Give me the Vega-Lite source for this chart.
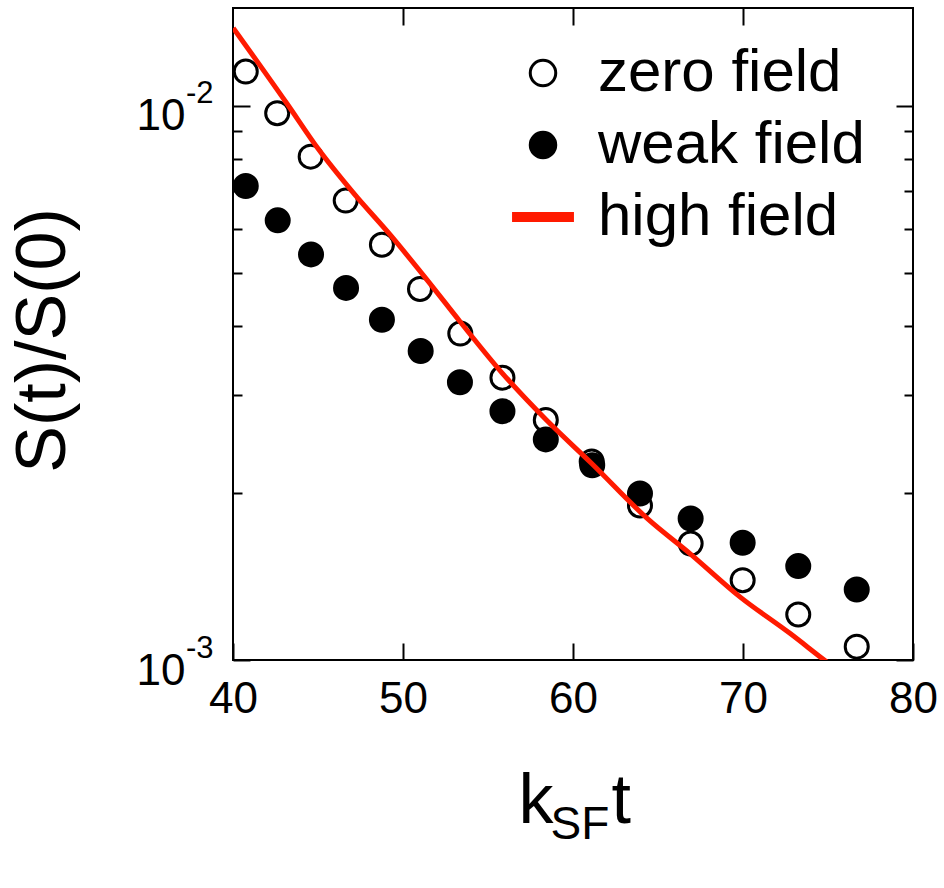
{
  "$schema": "https://vega.github.io/schema/vega-lite/v6.json",
  "autosize": {"type": "none"},
  "padding": {"left": 233, "top": 8, "right": 31, "bottom": 228},
  "width": 680,
  "height": 652,
  "background": "white",
  "config": {
    "font": "Liberation Sans",
    "view": {"stroke": "black", "strokeWidth": 2},
    "axis": {"domain": false, "grid": false, "tickColor": "black", "tickWidth": 2, "labelColor": "black", "labelFont": "Liberation Sans", "labelFontSize": 44, "labelFlush": false, "labelOverlap": false, "labelBound": false, "titleFont": "Liberation Sans", "titleFontWeight": "normal", "titleColor": "black"},
    "legend": {"orient": "none", "legendX": 280, "legendY": 35, "padding": 0, "title": null, "labelFont": "Liberation Sans", "labelFontSize": 60, "labelColor": "black", "labelLimit": 500, "labelOffset": 25, "rowPadding": 12, "symbolSize": 650, "symbolStrokeWidth": 3}
  },
  "data": {"values": [
    {"series": "zero field", "t": 40.75, "S": 0.01152},
    {"series": "zero field", "t": 42.6, "S": 0.00969},
    {"series": "zero field", "t": 44.57, "S": 0.00809},
    {"series": "zero field", "t": 46.63, "S": 0.00674},
    {"series": "zero field", "t": 48.76, "S": 0.00561},
    {"series": "zero field", "t": 51.0, "S": 0.00467},
    {"series": "zero field", "t": 53.37, "S": 0.00388},
    {"series": "zero field", "t": 55.85, "S": 0.00323},
    {"series": "zero field", "t": 58.4, "S": 0.00271},
    {"series": "zero field", "t": 61.1, "S": 0.00228},
    {"series": "zero field", "t": 63.94, "S": 0.00190},
    {"series": "zero field", "t": 66.92, "S": 0.001622},
    {"series": "zero field", "t": 69.98, "S": 0.001393},
    {"series": "zero field", "t": 73.25, "S": 0.001208},
    {"series": "zero field", "t": 76.69, "S": 0.001057},
    {"series": "weak field", "t": 40.75, "S": 0.00716},
    {"series": "weak field", "t": 42.63, "S": 0.00621},
    {"series": "weak field", "t": 44.59, "S": 0.00539},
    {"series": "weak field", "t": 46.65, "S": 0.00469},
    {"series": "weak field", "t": 48.76, "S": 0.00411},
    {"series": "weak field", "t": 51.04, "S": 0.00361},
    {"series": "weak field", "t": 53.35, "S": 0.00317},
    {"series": "weak field", "t": 55.85, "S": 0.00281},
    {"series": "weak field", "t": 58.4, "S": 0.00250},
    {"series": "weak field", "t": 61.13, "S": 0.002245},
    {"series": "weak field", "t": 63.94, "S": 0.001997},
    {"series": "weak field", "t": 66.92, "S": 0.00180},
    {"series": "weak field", "t": 69.98, "S": 0.001627},
    {"series": "weak field", "t": 73.25, "S": 0.001477},
    {"series": "weak field", "t": 76.69, "S": 0.00134},
    {"series": "high field", "t": 40.02, "S": 0.01380},
    {"series": "high field", "t": 43.16, "S": 0.01010},
    {"series": "high field", "t": 45.02, "S": 0.008350},
    {"series": "high field", "t": 47.08, "S": 0.006960},
    {"series": "high field", "t": 49.24, "S": 0.005850},
    {"series": "high field", "t": 51.39, "S": 0.004860},
    {"series": "high field", "t": 53.35, "S": 0.004080},
    {"series": "high field", "t": 55.81, "S": 0.003300},
    {"series": "high field", "t": 58.45, "S": 0.002706},
    {"series": "high field", "t": 61.10, "S": 0.002262},
    {"series": "high field", "t": 64.43, "S": 0.001793},
    {"series": "high field", "t": 66.88, "S": 0.001556},
    {"series": "high field", "t": 69.82, "S": 0.001300},
    {"series": "high field", "t": 72.76, "S": 0.001117},
    {"series": "high field", "t": 74.72, "S": 0.001003},
    {"series": "high field", "t": 75.71, "S": 0.000951}
  ]},
  "resolve": {"axis": {"x": "independent", "y": "independent"}},
  "layer": [
    {
      "transform": [{"filter": "datum.series == 'zero field'"}],
      "mark": {"type": "point", "size": 530, "strokeWidth": 3, "opacity": 1},
      "encoding": {
        "x": {"field": "t", "type": "quantitative", "scale": {"domain": [40, 80], "nice": false, "zero": false},
          "axis": {"orient": "bottom", "values": [40, 50, 60, 70, 80], "tickSize": -17, "labelPadding": 34, "labelBaseline": "top", "labelAlign": "center",
            "title": "k", "titleFontSize": 70, "titleX": 285, "titleY": 162, "titleAlign": "left", "titleBaseline": "alphabetic", "titleAngle": 0}},
        "y": {"field": "S", "type": "quantitative", "scale": {"type": "log", "domain": [0.001, 0.015], "nice": false},
          "axis": {"orient": "left", "values": [0.001, 0.01], "tickSize": -17, "labelExpr": "'10'", "labelPadding": 65, "labelOffset": 11, "labelAlign": "right", "labelBaseline": "middle",
            "title": "S(t)/S(0)", "titleFontSize": 70, "titleAngle": -90, "titleX": -169, "titleY": 332, "titleAlign": "center", "titleBaseline": "alphabetic"}},
        "shape": {"field": "series", "type": "nominal", "scale": {"domain": ["zero field", "weak field", "high field"], "range": ["circle", "circle", "M-2.31,-0.27H2.31V0.27H-2.31Z"]}},
        "fill": {"field": "series", "type": "nominal", "scale": {"domain": ["zero field", "weak field", "high field"], "range": ["white", "black", "#ff1a00"]}},
        "stroke": {"field": "series", "type": "nominal", "scale": {"domain": ["zero field", "weak field", "high field"], "range": ["black", "black", "#ff1a00"]}}
      }
    },
    {
      "transform": [{"filter": "datum.series == 'weak field'"}],
      "mark": {"type": "point", "size": 530, "strokeWidth": 3, "opacity": 1},
      "encoding": {
        "x": {"field": "t", "type": "quantitative", "scale": {"domain": [40, 80], "nice": false, "zero": false},
          "axis": {"orient": "top", "values": [50, 60, 70], "tickSize": -17, "labels": false, "title": null}},
        "y": {"field": "S", "type": "quantitative", "scale": {"type": "log", "domain": [0.001, 0.015], "nice": false},
          "axis": {"orient": "right", "values": [0.001, 0.01], "tickSize": -17, "labels": false, "title": null}},
        "shape": {"field": "series", "type": "nominal"},
        "fill": {"field": "series", "type": "nominal"},
        "stroke": {"field": "series", "type": "nominal"}
      }
    },
    {
      "transform": [{"filter": "datum.series == 'high field'"}],
      "mark": {"type": "line", "strokeWidth": 5, "clip": true, "interpolate": "monotone"},
      "encoding": {
        "x": {"field": "t", "type": "quantitative", "scale": {"domain": [40, 80], "nice": false, "zero": false},
          "axis": {"orient": "bottom", "ticks": false, "labels": false, "title": "SF", "titleFontSize": 46, "titleX": 317, "titleY": 178, "titleAlign": "left", "titleBaseline": "alphabetic", "titleAngle": 0}},
        "y": {"field": "S", "type": "quantitative", "scale": {"type": "log", "domain": [0.001, 0.015], "nice": false},
          "axis": {"orient": "left", "values": [0.002, 0.003, 0.004, 0.005, 0.006, 0.007, 0.008, 0.009], "tickSize": -9, "labels": false, "title": null}},
        "stroke": {"field": "series", "type": "nominal"}
      }
    },
    {
      "transform": [{"filter": "datum.series == 'zero field'"}],
      "mark": {"type": "point", "opacity": 0},
      "encoding": {
        "x": {"field": "t", "type": "quantitative", "scale": {"domain": [40, 80], "nice": false, "zero": false},
          "axis": {"orient": "bottom", "ticks": false, "labels": false, "title": "t", "titleFontSize": 70, "titleX": 378, "titleY": 162, "titleAlign": "left", "titleBaseline": "alphabetic", "titleAngle": 0}},
        "y": {"field": "S", "type": "quantitative", "scale": {"type": "log", "domain": [0.001, 0.015], "nice": false},
          "axis": {"orient": "right", "values": [0.002, 0.003, 0.004, 0.005, 0.006, 0.007, 0.008, 0.009], "tickSize": -9, "labels": false, "title": null}}
      }
    },
    {
      "transform": [{"filter": "datum.series == 'zero field'"}],
      "mark": {"type": "point", "opacity": 0},
      "encoding": {
        "x": {"field": "t", "type": "quantitative", "scale": {"domain": [40, 80], "nice": false, "zero": false}, "axis": null},
        "y": {"field": "S", "type": "quantitative", "scale": {"type": "log", "domain": [0.001, 0.015], "nice": false},
          "axis": {"orient": "left", "values": [0.001, 0.01], "ticks": false, "labelExpr": "datum.value < 0.005 ? '-3' : '-2'", "labelFontSize": 31, "labelPadding": 20, "labelOffset": -12, "labelAlign": "right", "labelBaseline": "middle", "title": null}}
      }
    }
  ]
}
